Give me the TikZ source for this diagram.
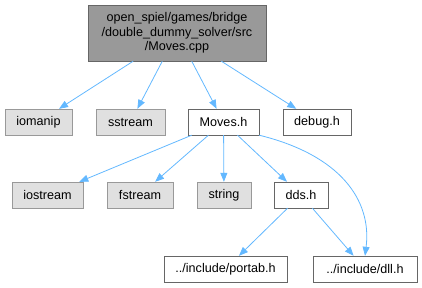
\documentclass[tikz,border=0pt]{standalone}
\usepackage{fontspec}
\setmainfont{Liberation Sans}
\usetikzlibrary{arrows.meta}

\definecolor{edgeblue}{HTML}{63B8FF}
\definecolor{rootfill}{HTML}{999999}
\definecolor{sysfill}{HTML}{E0E0E0}

\begin{document}
\begin{tikzpicture}[x=1pt, y=-1pt, >={Triangle[length=9pt,width=7pt]},
  font=\fontsize{12.6}{14.5}\selectfont,
  file/.style={draw=black!60, fill=white, minimum height=26pt, inner sep=0pt},
  sysfile/.style={file, draw=black!40, fill=sysfill},
  dep/.style={->, edgeblue, line width=0.8pt}]

  \useasboundingbox (0,0) rectangle (422,287);

  % 源文件
  \node[draw=black!60, fill=rootfill, minimum width=178pt, minimum height=56pt,
        inner sep=0pt, align=center] (moves_cpp) at (177,33)
    {open\_spiel/games/bridge\\/double\_dummy\_solver/src\\/Moves.cpp};

  % 第一层
  \node[sysfile, minimum width=67pt] (iomanip) at (38.5,122) {iomanip};
  \node[sysfile, minimum width=69pt] (sstream) at (130.5,122) {sstream};
  \node[file, minimum width=71pt] (moves_h) at (223.5,122) {Moves.h};
  \node[file, minimum width=68pt] (debug_h) at (317,122) {debug.h};

  % 第二层
  \node[sysfile, minimum width=71pt] (iostream) at (47.5,195) {iostream};
  \node[sysfile, minimum width=66pt] (fstream) at (140,195) {fstream};
  \node[sysfile, minimum width=54pt] (string) at (224,195) {string};
  \node[file, minimum width=54pt] (dds_h) at (301,195) {dds.h};

  % 第三层
  \node[file, minimum width=123pt] (portab_h) at (225.5,269) {../include/portab.h};
  \node[file, minimum width=104pt] (dll_h) at (365,269) {../include/dll.h};

  % 包含关系
  \foreach \f in {iomanip, sstream, moves_h, debug_h}
    \draw[dep] (moves_cpp) -- (\f);
  \foreach \f in {iostream, fstream, string, dds_h}
    \draw[dep] (moves_h) -- (\f);
  \draw[dep] (moves_h.south east) .. controls (340,155) and (372,200) .. (dll_h.north);
  \draw[dep] (dds_h) -- (portab_h);
  \draw[dep] (dds_h) -- (dll_h);

\end{tikzpicture}
\end{document}
